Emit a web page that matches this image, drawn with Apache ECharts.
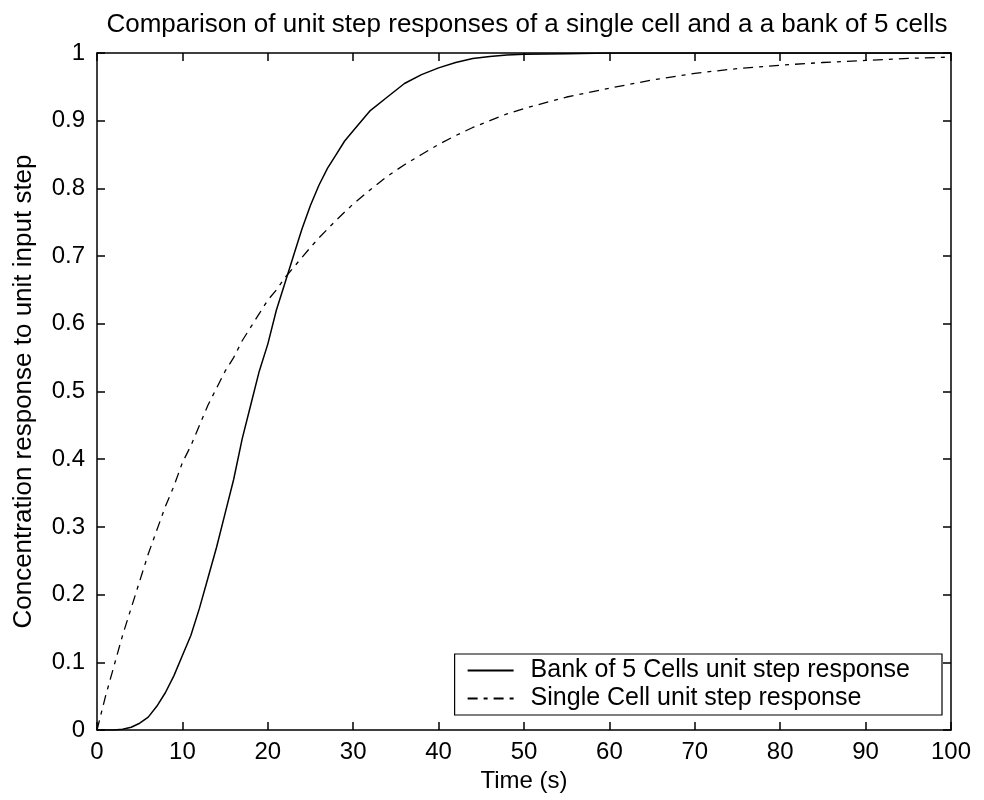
<!DOCTYPE html>
<html>
<head>
<meta charset="utf-8">
<script src="https://cdn.jsdelivr.net/npm/echarts@6/dist/echarts.min.js"></script>
<style>html,body{margin:0;padding:0;background:#fff;}#chart{width:984px;height:800px;}</style>
</head>
<body>
<div id="chart"></div>
<script>
// Time (s)
const timeS = [0,1,2,3,4,5,6,7,8,9,10,11,12,13,14,15,16,17,18,19,20,21,22,23,24,25,26,27,28,29,30,32,34,36,38,40,42,44,46,48,50,55,60,65,70,75,80,85,90,95,100];
// Bank of 5 cells (solid)
const bankVals = [0,0,0,0.001,0.004,0.01,0.019,0.035,0.055,0.08,0.11,0.14,0.18,0.225,0.27,0.32,0.37,0.43,0.48,0.53,0.57,0.62,0.66,0.70,0.74,0.775,0.805,0.83,0.85,0.87,0.885,0.915,0.935,0.955,0.968,0.978,0.986,0.992,0.995,0.997,0.998,0.999,1,1,1,1,1,1,1,1,1];
// Single cell (dash-dot)
const singleVals = [0,0.05,0.095,0.14,0.18,0.22,0.26,0.295,0.33,0.36,0.395,0.42,0.45,0.48,0.505,0.53,0.55,0.575,0.595,0.615,0.635,0.65,0.668,0.683,0.698,0.713,0.727,0.74,0.753,0.765,0.777,0.798,0.818,0.835,0.85,0.865,0.878,0.89,0.9,0.91,0.918,0.935,0.948,0.96,0.97,0.977,0.982,0.986,0.989,0.992,0.994];
const seriesNames = ['Bank of 5 Cells unit step response', 'Single Cell unit step response'];
const titleText = 'Comparison of unit step responses of a single cell and a a bank of 5 cells';
const xName = 'Time (s)';
const yName = 'Concentration response to unit input step';

const FONT = '"Liberation Sans", Arial, sans-serif';
const chart = echarts.init(document.getElementById('chart'), null, {renderer: 'canvas'});
const axisLine = {show: true, onZero: false, lineStyle: {color: '#000', width: 1.5}};
const tick = {show: true, inside: true, length: 8, lineStyle: {color: '#000', width: 1.5}};
chart.setOption({
  backgroundColor: '#fff',
  animation: false,
  title: {
    text: titleText, left: 522, top: 7, textAlign: 'center',
    textStyle: {fontFamily: FONT, fontSize: 26, fontWeight: 'normal', color: '#000'}
  },
  grid: {left: 97, right: 33, top: 53, bottom: 70},
  legend: {
    orient: 'vertical', right: 42, bottom: 85,
    backgroundColor: '#fff', borderColor: '#000', borderWidth: 1.2, borderRadius: 0,
    padding: [4, 32, 4, 12], itemGap: 3, itemWidth: 46, itemHeight: 14,
    itemStyle: {opacity: 0, borderWidth: 0},
    textStyle: {fontFamily: FONT, fontSize: 25, color: '#000', padding: [0, 0, 0, 12]},
    data: seriesNames
  },
  xAxis: [{
    type: 'value', min: 0, max: 100, interval: 10,
    name: xName, nameLocation: 'middle', nameGap: 35,
    nameTextStyle: {fontFamily: FONT, fontSize: 24, color: '#000'},
    axisLine: axisLine, axisTick: tick, splitLine: {show: false},
    axisLabel: {fontFamily: FONT, fontSize: 24, color: '#000', margin: 10}
  }, {
    type: 'value', min: 0, max: 100, interval: 10, position: 'top',
    axisLine: axisLine, axisTick: tick, splitLine: {show: false}, axisLabel: {show: false}
  }],
  yAxis: [{
    type: 'value', min: 0, max: 1, interval: 0.1,
    name: yName, nameLocation: 'middle', nameGap: 60, nameRotate: 90,
    nameTextStyle: {fontFamily: FONT, fontSize: 26, color: '#000'},
    axisLine: axisLine, axisTick: tick, splitLine: {show: false},
    axisLabel: {fontFamily: FONT, fontSize: 24, color: '#000', margin: 12,
      formatter: v => (Math.round(v * 10) / 10).toString()}
  }, {
    type: 'value', min: 0, max: 1, interval: 0.1, position: 'right',
    axisLine: axisLine, axisTick: tick, splitLine: {show: false}, axisLabel: {show: false}
  }],
  series: [{
    name: seriesNames[0], type: 'line', symbol: 'none', smooth: false,
    data: timeS.map((t, i) => [t, bankVals[i]]),
    lineStyle: {color: '#000', width: 1.5, type: 'solid'},
    itemStyle: {color: '#000'}
  }, {
    name: seriesNames[1], type: 'line', symbol: 'none', smooth: false,
    data: timeS.map((t, i) => [t, singleVals[i]]),
    lineStyle: {color: '#000', width: 1.3, type: [10, 6, 4, 6]},
    itemStyle: {color: '#000'}
  }]
});
</script>
</body>
</html>
